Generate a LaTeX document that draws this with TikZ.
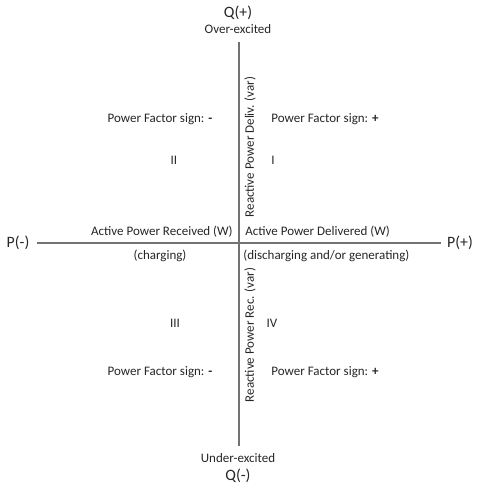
\documentclass[tikz,border=0pt]{standalone}
\usepackage{fontspec}
\setmainfont{Carlito}
\begin{document}
\begin{tikzpicture}[x=0.02cm, y=-0.02cm,
    lbl/.style={text=black!85, font=\fontsize{7.4}{9}\selectfont, inner sep=0pt},
    axlbl/.style={text=black!85, font=\fontsize{9}{11}\selectfont, inner sep=0pt},
    axis/.style={draw=black!55, line width=0.6pt}]
    \useasboundingbox (0,0) rectangle (479,485);

    % axis ends
    \coordinate (qtop) at (239,42);
    \coordinate (qbot) at (239,446);
    \coordinate (pleft) at (37,243);
    \coordinate (pright) at (441,243);
    \draw[axis] (qtop) -- (qbot);
    \draw[axis] (pleft) -- (pright);

    % axis labels
    \node[axlbl] (qplus) at (238,13) {Q(+)};
    \node[lbl] (over) at (238,29) {Over-excited};
    \node[lbl] (under) at (238,458) {Under-excited};
    \node[axlbl] (qminus) at (238,476) {Q(-)};
    \node[axlbl] (pminus) at (18,243) {P(-)};
    \node[axlbl] (pplus) at (460,243) {P(+)};

    % quadrants
    \node[lbl] (pfII) at (160,119) {Power Factor sign: \textbf{-}};
    \node[lbl] (pfI) at (325,119) {Power Factor sign: \textbf{+}};
    \node[lbl] (qII) at (174,160) {II};
    \node[lbl] (qI) at (273,160) {I};
    \node[lbl] (qIII) at (175,323) {III};
    \node[lbl] (qIV) at (272,323) {IV};
    \node[lbl] (pfIII) at (160,372) {Power Factor sign: \textbf{-}};
    \node[lbl] (pfIV) at (325,372) {Power Factor sign: \textbf{+}};

    % axis captions
    \node[lbl, rotate=90] (qdeliv) at (250,147) {Reactive Power Deliv. (var)};
    \node[lbl, rotate=90] (qrec) at (250,335) {Reactive Power Rec. (var)};
    \node[lbl, anchor=east] (precv) at (233,232) {Active Power Received (W)};
    \node[lbl, anchor=west] (pdeliv) at (245,232) {Active Power Delivered (W)};
    \node[lbl] (charge) at (160,256) {(charging)};
    \node[lbl, anchor=west] (discharge) at (243,256) {(discharging and/or generating)};
\end{tikzpicture}
\end{document}
